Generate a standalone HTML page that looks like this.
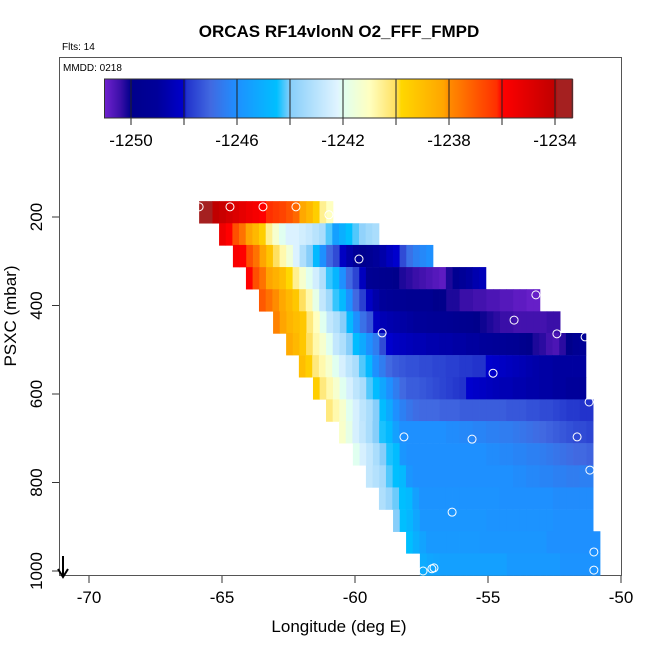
<!DOCTYPE html>
<html><head><meta charset="utf-8"><style>
body{margin:0;background:#fff}
svg{display:block;font-family:"Liberation Sans",sans-serif}
</style></head><body>
<svg id="chart" width="650" height="650" viewBox="0 0 650 650" xmlns="http://www.w3.org/2000/svg">
<text x="339" y="37" text-anchor="middle" font-size="17" font-weight="bold">ORCAS RF14vlonN O2_FFF_FMPD</text>
<text x="62" y="50" font-size="10">Flts: 14</text>
<rect x="59.5" y="57.5" width="562" height="518" fill="none" stroke="#555" stroke-width="1"/>
<text x="63" y="71" font-size="10">MMDD: 0218</text>
<g id="cells"></g>
<g id="pts"></g>
<g id="cbar"></g>
<g id="axes"></g>
<text x="339" y="632" text-anchor="middle" font-size="17">Longitude (deg E)</text>
<text transform="translate(16,316) rotate(-90)" text-anchor="middle" font-size="17">PSXC (mbar)</text>
<g stroke="#000" stroke-width="2" fill="none">
<line x1="63" y1="556" x2="63" y2="576"/><path d="M58,569 L63,577 L68,569"/>
</g>
</svg>
<script>
const rowPressure=[189,239,288,338,388,438,487,537,587,637,686,736,786,836,886,935,985];
const rowLonStart=[-65.86,-65.11,-64.59,-64.10,-63.61,-63.08,-62.59,-62.11,-61.58,-61.09,-60.60,-60.08,-59.59,-59.10,-58.57,-58.08,-57.56];
const rowLonEnd=[-60.83,-59.10,-57.07,-55.08,-53.05,-52.29,-51.32,-51.32,-51.32,-51.05,-51.05,-51.05,-51.05,-51.05,-51.05,-50.79,-50.79];
const row1=[-1233.5,-1233.8,-1234,-1234.3,-1234.6,-1234.9,-1235.2,-1235.5,-1235.7,-1236,-1236.2,-1236.4,-1236.6,-1236.9,-1237.3,-1238.3,-1238.8,-1239.5,-1240.5,-1241];
const row2=[-1235.5,-1236,-1236.8,-1237.5,-1238.2,-1238.8,-1239.5,-1240.5,-1241.3,-1242,-1242.3,-1242.3,-1242.5,-1242.7,-1243,-1243.3,-1244.2,-1245.5,-1245,-1244.5,-1244.2,-1243.8,-1243.5,-1243.3];
const row3=[-1235.8,-1236,-1236.8,-1237.5,-1238.2,-1239.2,-1240,-1240.8,-1241.5,-1242.3,-1243.2,-1244,-1244.7,-1246,-1247,-1247.5,-1248.2,-1248.7,-1249.2,-1249.8,-1249.5,-1249,-1248.7,-1248.3,-1248,-1247.5,-1246.8,-1246.4,-1246.2,-1246];
const row4=[-1236,-1236.8,-1237.5,-1238.2,-1238.6,-1239,-1239.8,-1240.5,-1241.3,-1242,-1242.5,-1243.2,-1244.3,-1244.8,-1246,-1247,-1247.6,-1248.3,-1249.5,-1249.6,-1249.7,-1249.8,-1250,-1250.2,-1250.3,-1250.4,-1250.5,-1250.6,-1250.7,-1250.8,-1250.2,-1249.6,-1249.2,-1248.9,-1248.6,-1248.4];
const row5=[-1237,-1237.5,-1238,-1238.3,-1238.8,-1239.3,-1240,-1240.8,-1241.8,-1242.8,-1243.5,-1244.3,-1244.7,-1246,-1247,-1247.7,-1248.2,-1248.7,-1249.1,-1249.3,-1249.4,-1249.5,-1249.6,-1249.6,-1249.6,-1249.6,-1250,-1250,-1250.2,-1250.2,-1250.4,-1250.4,-1250.5,-1250.5,-1250.6,-1250.6,-1250.7,-1250.7,-1250.8,-1250.8,-1250.9,-1250.9];
const row6=[-1237.8,-1238.2,-1238.7,-1239,-1239.3,-1240.3,-1241,-1242,-1242.8,-1243.2,-1244,-1244.7,-1246,-1246.8,-1247.3,-1248.2,-1248.5,-1248.6,-1248.7,-1248.8,-1248.9,-1249,-1249.1,-1249.2,-1249.3,-1249.4,-1249.5,-1249.6,-1249.7,-1249.8,-1250,-1250.1,-1250.2,-1250.3,-1250.4,-1250.4,-1250.5,-1250.5,-1250.5,-1250.5,-1250.5,-1250.4,-1250.4];
const row7=[-1238.4,-1238.8,-1239.3,-1240,-1240.8,-1241.3,-1242,-1242.8,-1243.2,-1244,-1244.6,-1245.2,-1246,-1246.5,-1247.5,-1248,-1248.2,-1248.3,-1248.4,-1248.5,-1248.5,-1248.6,-1248.6,-1248.7,-1248.7,-1248.8,-1248.8,-1248.9,-1248.9,-1249,-1249.1,-1249.2,-1249.3,-1249.4,-1249.5,-1249.8,-1250,-1250.2,-1250.3,-1250.5,-1250.6,-1250.3,-1250,-1249.5,-1249.3];
const row8=[-1239,-1239.5,-1240.3,-1240.8,-1241.3,-1242,-1242.4,-1242.9,-1243.3,-1244.2,-1244.7,-1246,-1246.5,-1247,-1247.2,-1247.3,-1247.4,-1247.4,-1247.5,-1247.5,-1247.6,-1247.6,-1247.7,-1247.7,-1247.8,-1247.8,-1247.9,-1247.9,-1248,-1248.1,-1248.2,-1248.3,-1248.4,-1248.5,-1248.6,-1248.7,-1248.8,-1248.8,-1248.9,-1248.9,-1248.9,-1248.9,-1248.9];
const row9=[-1239.5,-1240.3,-1240.8,-1241.3,-1242,-1242.4,-1242.9,-1243.3,-1244.2,-1244.6,-1245.3,-1246,-1246.5,-1247,-1247.2,-1247.2,-1247.3,-1247.4,-1247.5,-1247.6,-1247.7,-1247.8,-1247.9,-1248,-1248.1,-1248.2,-1248.3,-1248.4,-1248.5,-1248.5,-1248.6,-1248.6,-1248.7,-1248.7,-1248.8,-1248.8,-1248.9,-1248.9,-1249,-1249,-1249.1];
const row10=[-1240.3,-1240.8,-1241.3,-1242,-1242.4,-1242.9,-1243.3,-1244,-1244.6,-1245.2,-1246,-1246.4,-1246.7,-1246.9,-1247,-1247,-1247,-1247.1,-1247.1,-1247.1,-1247.2,-1247.2,-1247.2,-1247.2,-1247.2,-1247.2,-1247.2,-1247.3,-1247.3,-1247.3,-1247.4,-1247.4,-1247.5,-1247.5,-1247.6,-1247.7,-1247.8,-1247.8,-1247.9,-1247.9];
const row11=[-1241.2,-1241.8,-1242.4,-1242.8,-1243.3,-1244,-1244.4,-1244.7,-1245.5,-1246,-1246,-1246,-1246,-1246,-1246,-1246,-1246.1,-1246.1,-1246.2,-1246.2,-1246.3,-1246.3,-1246.4,-1246.4,-1246.5,-1246.5,-1246.6,-1246.7,-1246.8,-1246.9,-1247,-1247.1,-1247.2,-1247.3,-1247.4,-1247.5,-1247.5,-1247.6];
const row12=[-1242,-1242.4,-1242.8,-1243.3,-1244,-1244.4,-1244.6,-1245.8,-1246,-1246,-1246,-1246,-1246,-1246,-1246,-1246,-1246,-1246,-1246,-1246,-1246.1,-1246.1,-1246.2,-1246.2,-1246.3,-1246.3,-1246.4,-1246.4,-1246.5,-1246.6,-1246.7,-1246.8,-1246.9,-1247,-1247,-1247.1];
const row13=[-1242.8,-1243.1,-1243.4,-1244.2,-1244.5,-1244.7,-1245.8,-1246,-1246,-1246,-1246,-1246,-1246,-1246,-1246,-1246,-1246,-1246,-1246,-1246,-1246,-1246,-1246.1,-1246.1,-1246.2,-1246.2,-1246.3,-1246.3,-1246.4,-1246.4,-1246.5,-1246.5,-1246.4,-1246.4];
const row14=[-1243.2,-1243.6,-1244.1,-1244.5,-1244.7,-1245.5,-1245.9,-1245.9,-1245.9,-1245.9,-1245.9,-1245.9,-1245.9,-1245.9,-1245.9,-1245.9,-1245.9,-1245.9,-1246,-1246,-1246,-1246,-1246,-1246,-1246,-1246,-1246.1,-1246.1,-1246.1,-1246.1,-1246.1,-1246.1];
const row15=[-1244,-1244.5,-1244.8,-1245.3,-1245.8,-1245.8,-1245.8,-1245.8,-1245.8,-1245.8,-1245.8,-1245.8,-1245.8,-1245.8,-1245.9,-1245.9,-1245.9,-1245.9,-1245.9,-1245.9,-1245.9,-1245.9,-1245.9,-1245.9,-1246,-1246,-1246,-1246,-1246,-1246];
const row16=[-1244.5,-1245,-1245.4,-1245.7,-1245.7,-1245.7,-1245.7,-1245.7,-1245.7,-1245.7,-1245.7,-1245.8,-1245.8,-1245.8,-1245.8,-1245.8,-1245.8,-1245.8,-1245.8,-1245.8,-1245.8,-1246,-1246,-1246,-1246,-1246,-1246,-1246,-1246];
const row17=[-1245.1,-1245.3,-1245.4,-1245.5,-1245.5,-1245.5,-1245.5,-1245.5,-1245.5,-1245.5,-1245.5,-1245.5,-1245.5,-1245.7,-1245.7,-1245.7,-1245.7,-1245.7,-1245.7,-1245.7,-1245.7,-1245.9,-1245.9,-1245.9,-1245.9,-1245.9,-1245.9];
const rowValues=[row1,row2,row3,row4,row5,row6,row7,row8,row9,row10,row11,row12,row13,row14,row15,row16,row17];
const rowSpan=49.7;
const pointLon=[-65.86,-64.70,-63.46,-62.22,-60.98,-59.85,-53.20,-54.02,-52.41,-51.35,-58.98,-54.81,-51.20,-58.16,-55.60,-51.65,-51.17,-56.35,-51.02,-51.02,-57.44,-57.11,-57.03];
const pointP=[177,177,177,177,195,295,376,433,464,471,462,553,618,697,702,697,772,867,957,998,1000,995,993];
const xTicks=[-70,-65,-60,-55,-50];
const yTicks=[200,400,600,800,1000];
const cbTicks=[-1250,-1246,-1242,-1238,-1234];
const cbDividers=[-1250,-1248,-1246,-1244,-1242,-1240,-1238,-1236,-1234];
const cbMin=-1251.0, cbMax=-1233.35;

const NS='http://www.w3.org/2000/svg';
const X=lon=>89+(lon+70)*26.6;
const Y=p=>217+(p-200)*0.4425;
const CX=v=>131+(v+1250)*26.5;
const stops=[[-1251.3,'8A2BE2'],[-1250.4,'3a0fa8'],[-1250,'00008B'],[-1249,'00009A'],[-1248,'0000CD'],[-1247.9,'2233CC'],[-1247,'4169E1'],[-1246,'1E90FF'],[-1244.5,'00BFFF'],[-1244,'87CEFA'],[-1242.2,'E0F4FF'],[-1242,'E0FFF0'],[-1241,'FFFFC0'],[-1240,'FFE060'],[-1239.8,'FFD700'],[-1238.2,'FFA500'],[-1238,'FF8C00'],[-1236.2,'FF3000'],[-1236,'FF0000'],[-1234,'C00000'],[-1233.9,'A52020'],[-1233,'A52020']];
function hex(h){return [parseInt(h.slice(0,2),16),parseInt(h.slice(2,4),16),parseInt(h.slice(4,6),16)];}
function color(v){
  if(v<=stops[0][0])return '#'+stops[0][1];
  for(let i=1;i<stops.length;i++){
    if(v<=stops[i][0]){
      const a=hex(stops[i-1][1]),b=hex(stops[i][1]),t=(v-stops[i-1][0])/(stops[i][0]-stops[i-1][0]);
      return 'rgb('+a.map((c,k)=>Math.round(c+(b[k]-c)*t)).join(',')+')';
    }
  }
  return '#'+stops[stops.length-1][1];
}
function mk(tag,attrs,parent){const e=document.createElementNS(NS,tag);for(const k in attrs)e.setAttribute(k,attrs[k]);parent.appendChild(e);return e;}

const cells=document.getElementById('cells');
rowValues.forEach((vals,r)=>{
  const y0=Y(rowPressure[r]-rowSpan/2), y1=Y(rowPressure[r]+rowSpan/2);
  const w=(rowLonEnd[r]-rowLonStart[r])/vals.length;
  vals.forEach((v,i)=>{
    const x0=X(rowLonStart[r]+i*w), x1=X(rowLonStart[r]+(i+1)*w);
    const c=mk('rect',{x:x0.toFixed(2),y:y0.toFixed(2),width:(x1-x0+0.4).toFixed(2),height:(y1-y0+0.4).toFixed(2),fill:color(v)},cells);
    
    
  });
});
const pts=document.getElementById('pts');
pointLon.forEach((lon,i)=>{
  const c=mk('circle',{cx:X(lon),cy:Y(pointP[i]),r:4,fill:'none',stroke:'#fff','stroke-width':1},pts);
  
  
});
const cb=document.getElementById('cbar');
const bg=mk('rect',{x:CX(cbMin),y:79,width:CX(cbMax)-CX(cbMin),height:39,fill:'#fff',stroke:'none'},cb);


for(let x=Math.floor(CX(cbMin));x<CX(cbMax);x++){
  const v=cbMin+(x+0.5-CX(cbMin))/26.5;
  const s=mk('rect',{x:x,y:79,width:1.2,height:39,fill:color(v)},cb);
  
  
}
cbDividers.forEach(v=>{
  const l=mk('line',{x1:CX(v),x2:CX(v),y1:79,y2:125,stroke:'#222','stroke-width':1},cb);
  
  
});
const cbf=mk('rect',{x:CX(cbMin),y:79,width:CX(cbMax)-CX(cbMin),height:39,fill:'none',stroke:'#333','stroke-width':1},cb);


cbTicks.forEach(v=>{
  const t=mk('text',{x:CX(v),y:146,'text-anchor':'middle','font-size':17},cb);
  t.textContent=String(v);
  
  
});
const ax=document.getElementById('axes');
xTicks.forEach(v=>{
  const l=mk('line',{x1:X(v),x2:X(v),y1:576,y2:583,stroke:'#333'},ax);
  
  
  const t=mk('text',{x:X(v),y:603,'text-anchor':'middle','font-size':17},ax);
  t.textContent=String(v);
  
  
});
yTicks.forEach(v=>{
  const l=mk('line',{x1:52,x2:59,y1:Y(v),y2:Y(v),stroke:'#333'},ax);
  
  
  const t=mk('text',{transform:'translate(42,'+Y(v)+') rotate(-90)','text-anchor':'middle','font-size':17},ax);
  t.textContent=String(v);
  
  
});
</script>
</body></html>
